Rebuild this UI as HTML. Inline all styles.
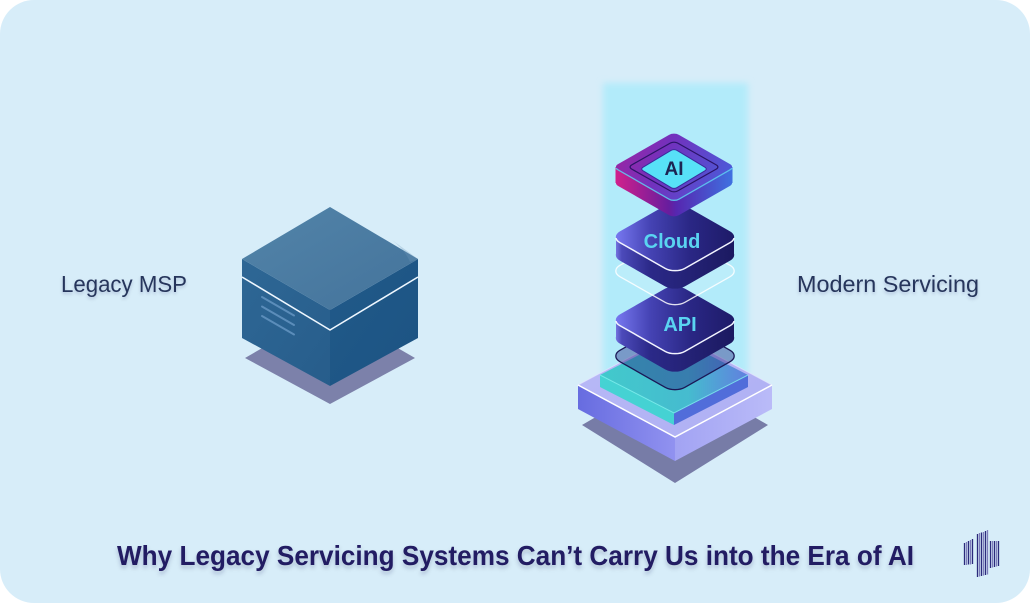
<!DOCTYPE html>
<html><head><meta charset="utf-8"><style>
html,body{margin:0;padding:0;background:#fff;}
svg{display:block;}
</style></head><body>
<svg width="1030" height="603" viewBox="0 0 1030 603" xmlns="http://www.w3.org/2000/svg">
<defs>
  <filter id="blur" x="-20%" y="-20%" width="140%" height="140%"><feGaussianBlur stdDeviation="3.5"/></filter>
  <filter id="ts" x="-5%" y="-30%" width="110%" height="160%"><feDropShadow dx="0" dy="3" stdDeviation="2" flood-color="#1a2a50" flood-opacity="0.22"/></filter>
  <filter id="ts2" x="-5%" y="-30%" width="110%" height="160%"><feDropShadow dx="0" dy="2" stdDeviation="1.5" flood-color="#1a2a50" flood-opacity="0.2"/></filter>
  <linearGradient id="glow" x1="0" y1="0" x2="0" y2="1">
    <stop offset="0" stop-color="#b2ebfa"/><stop offset="0.85" stop-color="#b2ebfa"/><stop offset="1" stop-color="#b2ebfa" stop-opacity="0"/>
  </linearGradient>
  <linearGradient id="cubeTop" x1="0" y1="0" x2="1" y2="1">
    <stop offset="0" stop-color="#5284a9"/><stop offset="1" stop-color="#44739b"/>
  </linearGradient>
  <linearGradient id="cubeL" x1="0" y1="0" x2="1" y2="1">
    <stop offset="0" stop-color="#2e6795"/><stop offset="1" stop-color="#275d8b"/>
  </linearGradient>
  <linearGradient id="cubeR" x1="0" y1="0" x2="1" y2="1">
    <stop offset="0" stop-color="#215a89"/><stop offset="1" stop-color="#1c5383"/>
  </linearGradient>
  <!-- AI -->
  <linearGradient id="aiTop" gradientUnits="userSpaceOnUse" x1="613" y1="140" x2="735" y2="195">
    <stop offset="0" stop-color="#a0249f"/><stop offset="0.4" stop-color="#7231bd"/><stop offset="1" stop-color="#4561dd"/>
  </linearGradient>
  <linearGradient id="aiSide" gradientUnits="userSpaceOnUse" x1="613" y1="0" x2="735" y2="0">
    <stop offset="0" stop-color="#d6208b"/><stop offset="0.46" stop-color="#671d9e"/><stop offset="0.52" stop-color="#5627b0"/><stop offset="1" stop-color="#3e74e3"/>
  </linearGradient>
  <!-- Cloud / API -->
  <linearGradient id="blkTop" gradientUnits="userSpaceOnUse" x1="613" y1="0" x2="737" y2="0">
    <stop offset="0" stop-color="#7b7cf5"/><stop offset="0.3" stop-color="#4543b4"/><stop offset="0.62" stop-color="#2a2785"/><stop offset="1" stop-color="#1d1a66"/>
  </linearGradient>
  <linearGradient id="blkSide" gradientUnits="userSpaceOnUse" x1="613" y1="0" x2="737" y2="0">
    <stop offset="0" stop-color="#8a8af4"/><stop offset="0.07" stop-color="#4c4aba"/><stop offset="0.3" stop-color="#2b2988"/><stop offset="1" stop-color="#1b195f"/>
  </linearGradient>
  <linearGradient id="tealTop" x1="0" y1="0" x2="1" y2="0">
    <stop offset="0" stop-color="#38cbc8"/><stop offset="0.6" stop-color="#3cbccc"/><stop offset="1" stop-color="#5a7bdd"/>
  </linearGradient>
  <linearGradient id="baseL" x1="0" y1="0" x2="1" y2="0">
    <stop offset="0" stop-color="#676ce0"/><stop offset="1" stop-color="#9192f0"/>
  </linearGradient>
  <linearGradient id="baseR" x1="0" y1="0" x2="1" y2="0">
    <stop offset="0" stop-color="#a2a3f3"/><stop offset="1" stop-color="#babbf8"/>
  </linearGradient>
  <linearGradient id="baseTop" x1="0" y1="0" x2="1" y2="1">
    <stop offset="0" stop-color="#b9baf7"/><stop offset="1" stop-color="#aeaff3"/>
  </linearGradient>

  <!-- clip paths -->
  <clipPath id="aiSideClip">
    <rect x="615.5" y="167" width="117" height="16"/>
    <rect x="-43.1" y="-43.1" width="86.2" height="86.2" rx="7" transform="translate(674,183) scale(1,0.574) rotate(45)"/>
  </clipPath>
  <clipPath id="aiTopClip">
    <rect x="-43.1" y="-43.1" width="86.2" height="86.2" rx="7" transform="translate(674,167) scale(1,0.574) rotate(45)"/>
  </clipPath>
  <clipPath id="cloudSideClip">
    <rect x="616" y="237" width="118" height="18"/>
    <rect x="-45.96" y="-45.96" width="91.92" height="91.92" rx="14" transform="translate(675,255) scale(1,0.569) rotate(45)"/>
  </clipPath>
  <clipPath id="cloudTopClip">
    <rect x="-45.96" y="-45.96" width="91.92" height="91.92" rx="14" transform="translate(675,237) scale(1,0.569) rotate(45)"/>
  </clipPath>
  <clipPath id="apiSideClip">
    <rect x="616" y="320" width="118" height="18"/>
    <rect x="-45.96" y="-45.96" width="91.92" height="91.92" rx="14" transform="translate(675,338) scale(1,0.569) rotate(45)"/>
  </clipPath>
  <clipPath id="apiTopClip">
    <rect x="-45.96" y="-45.96" width="91.92" height="91.92" rx="14" transform="translate(675,320) scale(1,0.569) rotate(45)"/>
  </clipPath>
  <clipPath id="lowerCloud"><rect x="600" y="238" width="150" height="50"/></clipPath>
  <clipPath id="lowerApi"><rect x="600" y="321" width="150" height="50"/></clipPath>
  <clipPath id="lowerAi"><rect x="600" y="168" width="150" height="50"/></clipPath>
</defs>

<!-- background -->
<rect x="0" y="0" width="1030" height="603" rx="34" ry="34" fill="#d7edf9"/>

<!-- glow column -->
<rect x="603" y="83" width="145" height="340" fill="url(#glow)" filter="url(#blur)"/>

<!-- ===== Legacy cube ===== -->
<polygon points="245,358 330,309 415,358 330,404" fill="#7c81aa"/>
<polygon points="242,259 330,310 330,386 242,338" fill="url(#cubeL)"/>
<polygon points="330,310 418,259 418,338 330,386" fill="url(#cubeR)"/>
<polygon points="330,207 418,259 330,310 242,259" fill="url(#cubeTop)"/>
<path d="M392,240 Q405,250 410,262 L418,259 Z" fill="#6c97bb" opacity="0.3"/>
<polyline points="242,277 330,330 418,277" fill="none" stroke="#eef7ff" stroke-width="1.6"/>
<g stroke="#5b8dba" stroke-width="2" stroke-linecap="round">
  <line x1="262" y1="297" x2="294" y2="315.5"/>
  <line x1="262" y1="306.5" x2="294" y2="325"/>
  <line x1="262" y1="316" x2="294" y2="334.5"/>
</g>

<!-- ===== Modern stack ===== -->
<!-- shadow -->
<polygon points="582,425 675,371 768,425 675,483" fill="#777ca7"/>
<!-- base plate -->
<polygon points="578,385 675,437 675,461 578,409" fill="url(#baseL)"/>
<polygon points="675,437 772,385 772,409 675,461" fill="url(#baseR)"/>
<polygon points="578,385 675,333 772,385 675,437" fill="url(#baseTop)" stroke="#e6e6ff" stroke-width="1" stroke-opacity="0.7"/>
<polyline points="578,385 675,437 772,385" fill="none" stroke="#ffffff" stroke-width="1.5"/>

<!-- teal plate -->
<polygon points="600,375 674,413 674,425 600,387" fill="#3fd4d1" opacity="0.95"/>
<polygon points="674,413 748,375 748,387 674,425" fill="#4c69d8" opacity="0.95"/>
<polygon points="600,375 674,337 748,375 674,413" fill="url(#tealTop)" opacity="0.92"/>
<polyline points="600,375 674,413 748,375" fill="none" stroke="#7ff0ee" stroke-width="1" opacity="0.8"/>

<!-- API ghost -->
<rect x="-45.96" y="-45.96" width="91.92" height="91.92" rx="14" transform="translate(675,356) scale(1,0.569) rotate(45)" fill="#24217c" fill-opacity="0.4" stroke="#1b1856" stroke-width="1.3" vector-effect="non-scaling-stroke"/>

<!-- cloud ghost fill -->
<rect x="-45.96" y="-45.96" width="91.92" height="91.92" rx="14" transform="translate(675,271) scale(1,0.569) rotate(45)" fill="#ffffff" fill-opacity="0.12"/>

<!-- API block -->
<rect x="600" y="280" width="150" height="110" fill="url(#blkSide)" clip-path="url(#apiSideClip)"/>
<rect x="600" y="280" width="150" height="100" fill="url(#blkTop)" clip-path="url(#apiTopClip)"/>
<g clip-path="url(#lowerApi)">
<rect x="-45.96" y="-45.96" width="91.92" height="91.92" rx="14" transform="translate(675,320) scale(1,0.569) rotate(45)" fill="none" stroke="#f2f4ff" stroke-width="1.5" vector-effect="non-scaling-stroke"/>
</g>
<text x="680" y="331" text-anchor="middle" font-family="'Liberation Sans', 'DejaVu Sans', sans-serif" font-weight="bold" font-size="20" fill="#5ad4f1">API</text>

<!-- cloud ghost stroke -->
<rect x="-45.96" y="-45.96" width="91.92" height="91.92" rx="14" transform="translate(675,271) scale(1,0.569) rotate(45)" fill="none" stroke="#ffffff" stroke-opacity="0.85" stroke-width="1.3" vector-effect="non-scaling-stroke"/>

<!-- Cloud block -->
<rect x="600" y="195" width="150" height="110" fill="url(#blkSide)" clip-path="url(#cloudSideClip)"/>
<rect x="600" y="195" width="150" height="100" fill="url(#blkTop)" clip-path="url(#cloudTopClip)"/>
<g clip-path="url(#lowerCloud)">
<rect x="-45.96" y="-45.96" width="91.92" height="91.92" rx="14" transform="translate(675,237) scale(1,0.569) rotate(45)" fill="none" stroke="#f2f4ff" stroke-width="1.5" vector-effect="non-scaling-stroke"/>
</g>
<text x="672" y="248" text-anchor="middle" font-family="'Liberation Sans', 'DejaVu Sans', sans-serif" font-weight="bold" font-size="20" fill="#5ad4f1">Cloud</text>

<!-- AI chip -->
<rect x="600" y="125" width="150" height="100" fill="url(#aiSide)" clip-path="url(#aiSideClip)"/>
<rect x="600" y="125" width="150" height="100" fill="url(#aiTop)" clip-path="url(#aiTopClip)"/>
<g clip-path="url(#lowerAi)">
<rect x="-43.1" y="-43.1" width="86.2" height="86.2" rx="7" transform="translate(674,167) scale(1,0.574) rotate(45)" fill="none" stroke="#5fd0f2" stroke-width="1.3" stroke-opacity="0.85" vector-effect="non-scaling-stroke"/>
</g>
<rect x="-32.5" y="-32.5" width="65" height="65" rx="5" transform="translate(674,167) scale(1,0.565) rotate(45)" fill="none" stroke="#2a1467" stroke-width="1.2" vector-effect="non-scaling-stroke"/>
<rect x="-24" y="-24" width="48" height="48" rx="4" transform="translate(674,169) scale(1,0.6) rotate(45)" fill="#57e1f7" stroke="#3b2a9c" stroke-width="1" vector-effect="non-scaling-stroke"/>
<text x="674" y="175" text-anchor="middle" font-family="'Liberation Sans', 'DejaVu Sans', sans-serif" font-weight="bold" font-size="19" fill="#1c2552">AI</text>

<!-- labels -->
<text x="61" y="292" font-family="'Liberation Sans', sans-serif" font-size="23" fill="#26365b" textLength="126" lengthAdjust="spacingAndGlyphs" filter="url(#ts2)">Legacy MSP</text>
<text x="797" y="292" font-family="'Liberation Sans', sans-serif" font-size="23" fill="#26365b" textLength="182" lengthAdjust="spacingAndGlyphs" filter="url(#ts2)">Modern Servicing</text>

<!-- title -->
<text x="117" y="565" font-family="'Liberation Sans', sans-serif" font-weight="bold" font-size="28" fill="#211c63" textLength="797" lengthAdjust="spacingAndGlyphs" filter="url(#ts)">Why Legacy Servicing Systems Can’t Carry Us into the Era of AI</text>

<!-- logo -->
<g stroke-width="1.3">
  <line x1="964.5" y1="543" x2="964.5" y2="565" stroke="#2b2a7c"/>
  <line x1="966.5" y1="542" x2="966.5" y2="565" stroke="#7d7cba"/>
  <line x1="968.5" y1="541" x2="968.5" y2="564.5" stroke="#2b2a7c"/>
  <line x1="970.5" y1="540" x2="970.5" y2="564.5" stroke="#7d7cba"/>
  <line x1="972.5" y1="539" x2="972.5" y2="564" stroke="#2b2a7c"/>
  <line x1="977.5" y1="534" x2="977.5" y2="577" stroke="#2b2a7c"/>
  <line x1="979.5" y1="533" x2="979.5" y2="576.5" stroke="#7d7cba"/>
  <line x1="981.5" y1="532.5" x2="981.5" y2="576" stroke="#2b2a7c"/>
  <line x1="983.5" y1="532" x2="983.5" y2="575.5" stroke="#7d7cba"/>
  <line x1="985.5" y1="531" x2="985.5" y2="575" stroke="#2b2a7c"/>
  <line x1="987.5" y1="530" x2="987.5" y2="574.5" stroke="#7d7cba"/>
  <line x1="990.5" y1="541" x2="990.5" y2="568" stroke="#2b2a7c"/>
  <line x1="992.5" y1="541" x2="992.5" y2="567.5" stroke="#7d7cba"/>
  <line x1="994.5" y1="541" x2="994.5" y2="567" stroke="#2b2a7c"/>
  <line x1="996.5" y1="541" x2="996.5" y2="566.5" stroke="#7d7cba"/>
  <line x1="998.5" y1="541" x2="998.5" y2="566" stroke="#2b2a7c"/>
</g>
</svg>
</body></html>
